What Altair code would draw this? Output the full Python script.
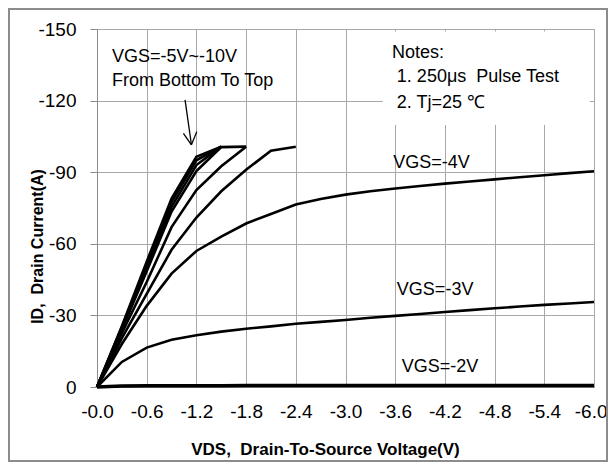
import altair as alt
import pandas as pd

# ---- data ----
VDS = [0.0, -0.3, -0.6, -0.9, -1.2, -1.5, -1.8, -2.1, -2.4, -2.7, -3.0,
       -3.3, -3.6, -3.9, -4.2, -4.5, -4.8, -5.1, -5.4, -5.7, -6.0]

id_vgs2 = [0, -0.4, -0.5, -0.5, -0.5, -0.5, -0.6, -0.6, -0.6, -0.6, -0.6,
           -0.6, -0.6, -0.6, -0.6, -0.6, -0.6, -0.6, -0.6, -0.6, -0.6]
id_vgs3 = [0, -10.5, -16.5, -19.8, -21.7, -23.2, -24.4, -25.4, -26.5, -27.3, -28.1,
           -29.0, -29.8, -30.6, -31.4, -32.2, -33.0, -33.7, -34.4, -35.0, -35.6]
id_vgs4 = [0, -18.0, -34.0, -47.5, -57.0, -63.0, -68.5, -72.5, -76.5, -78.8, -80.6,
           -82.0, -83.2, -84.2, -85.2, -86.1, -87.0, -87.9, -88.7, -89.6, -90.4]
id_vgs5 = [0, -20.5, -39.0, -57.5, -71.0, -82.0, -91.0, -99.0, -100.7]
id_vgs6 = [0, -22.5, -44.0, -67.0, -82.5, -92.5, -100.7]
id_vgs7 = [0, -24.0, -48.5, -73.5, -90.5, -100.5, -100.7]
id_vgs8 = [0, -24.5, -50.0, -75.5, -93.0, -100.7]
id_vgs9 = [0, -25.0, -51.5, -77.5, -95.0, -100.7]
id_vgs10 = [0, -25.5, -52.5, -79.0, -96.5, -100.7]

curves = {
    "-2V": id_vgs2, "-3V": id_vgs3, "-4V": id_vgs4, "-5V": id_vgs5,
    "-6V": id_vgs6, "-7V": id_vgs7, "-8V": id_vgs8, "-9V": id_vgs9,
    "-10V": id_vgs10,
}

x_ticks = VDS
y_ticks = [0, -30, -60, -90, -120, -150]

# annotation texts (positions in data units)
ann_text = ["VGS=-5V~-10V", "From Bottom To Top", "Notes:",
            "1. 250\u03bcs\u00a0 Pulse Test", "2. Tj=25 \u2103",
            "VGS=-4V", "VGS=-3V", "VGS=-2V"]
ann_x = [-0.18, -0.18, -3.56, -3.62, -3.62, -3.575, -3.62, -3.68]
ann_y = [-138.2, -128.2, -139.9, -129.9, -119.0, -93.9, -40.8, -8.5]

# arrow segments (data units)
arrow_x1 = [-1.063, -1.043, -1.205]
arrow_y1 = [-120.3, -106.3, -107.0]
arrow_x2 = [-1.14, -1.14, -1.14]
arrow_y2 = [-101.5, -101.5, -101.5]

# notes box
box_x1, box_x2 = [-3.45], [-5.95]
box_y1, box_y2 = [-149.0], [-109.8]

FONT = "Liberation Sans, Arial, sans-serif"

rows = []
for name, ids in curves.items():
    for i, v in enumerate(ids):
        rows.append({"vgs": name, "idx": i, "vds": VDS[i], "id": v,
                     "w": 3.6 if name == "-2V" else 2.6})
df = pd.DataFrame(rows)

xscale = alt.Scale(domain=[-6, 0], reverse=True, nice=False, zero=False)
yscale = alt.Scale(domain=[-150, 0], reverse=True, nice=False, zero=False)

xaxis = alt.Axis(
    values=x_ticks,
    labelExpr="abs(round(datum.value*10)) % 6 == 0 ? '-' + format(abs(datum.value), '.1f') : ''",
    labelAlign={"condition": {"test": "datum.value <= -5.95", "value": "right"}, "value": "center"},
    labelOffset={"condition": {"test": "datum.value <= -5.95", "value": 13}, "value": 0},
    ticks=False, labelPadding=15, labelFontSize=19, labelFont=FONT,
    labelColor="black", labelFlush=False, labelOverlap=False,
    title="VDS,\u00a0 Drain-To-Source Voltage(V)",
    titleFont=FONT, titleFontSize=17, titleFontWeight="bold", titleColor="black",
    titleX=228, titleY=62, titleAlign="center", titleBaseline="middle",
    grid=True, gridColor="#a8a8a8", gridWidth=1, domainColor="#8c8c8c",
)
yaxis = alt.Axis(
    values=y_ticks,
    labelExpr="datum.value == 0 ? '0' : '-' + abs(datum.value)",
    tickSize=7, tickColor="#8c8c8c", labelPadding=14, labelFontSize=19,
    labelFont=FONT, labelColor="black", labelFlush=False,
    title="ID,\u00a0 Drain Current(A)",
    titleFont=FONT, titleFontSize=16, titleFontWeight="bold", titleColor="black",
    titleX=-60, titleY=217, titleAlign="center", titleBaseline="middle", titleAngle=-90,
    grid=True, gridColor="#a8a8a8", gridWidth=1, domainColor="#8c8c8c",
)

lines = alt.Chart(df).mark_line(color="black").encode(
    x=alt.X("vds:Q", scale=xscale, axis=xaxis),
    y=alt.Y("id:Q", scale=yscale, axis=yaxis),
    detail="vgs:N",
    order="idx:Q",
    strokeWidth=alt.StrokeWidth("w:Q", scale=None, legend=None),
)

box_df = pd.DataFrame({"x1": box_x1, "x2": box_x2, "y1": box_y1, "y2": box_y2})
box = alt.Chart(box_df).mark_rect(color="white").encode(
    x=alt.X("x1:Q", scale=xscale), x2="x2:Q",
    y=alt.Y("y1:Q", scale=yscale), y2="y2:Q",
)

ann_df = pd.DataFrame({"t": ann_text, "x": ann_x, "y": ann_y})
texts = alt.Chart(ann_df).mark_text(
    align="left", baseline="middle", font=FONT, fontSize=18, color="black"
).encode(
    x=alt.X("x:Q", scale=xscale), y=alt.Y("y:Q", scale=yscale), text="t:N"
)

arr_df = pd.DataFrame({"x1": arrow_x1, "y1": arrow_y1, "x2": arrow_x2, "y2": arrow_y2})
arrow = alt.Chart(arr_df).mark_rule(color="black", strokeWidth=1.3).encode(
    x=alt.X("x1:Q", scale=xscale), y=alt.Y("y1:Q", scale=yscale),
    x2="x2:Q", y2="y2:Q",
)

frame = alt.Chart(pd.DataFrame({"a": [0]})).mark_rect(
    fill=None, stroke="#8c8c8c", strokeWidth=2
).encode(
    x=alt.value(-88), x2=alt.value(510), y=alt.value(-20), y2=alt.value(432)
)

chart = alt.layer(box, lines, texts, arrow, frame).properties(
    width=497, height=358,
    autosize=alt.AutoSizeParams(type="none"),
    padding={"left": 89, "top": 21, "right": 14, "bottom": 75},
    background="white",
).configure_view(stroke="#8c8c8c", strokeWidth=1)

chart.save("out.html", embed_options={"renderer": "svg", "actions": False})
